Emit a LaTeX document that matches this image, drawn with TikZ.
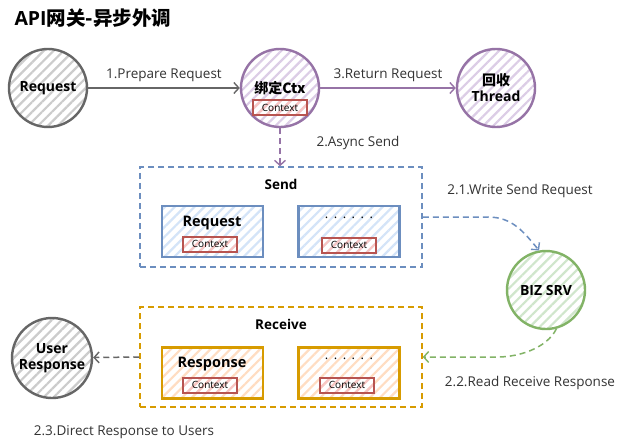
\documentclass[tikz,border=0pt]{standalone}
\usepackage{fontspec}
\setmainfont{Open Sans}
\newfontfamily\cjk{Noto Sans CJK SC}
\usetikzlibrary{arrows.meta,patterns.meta,calc}
\definecolor{grayS}{HTML}{666666}
\definecolor{grayF}{HTML}{CCCCCC}
\definecolor{purS}{HTML}{9673A6}
\definecolor{purF}{HTML}{DCCDE6}
\definecolor{bluS}{HTML}{6C8EBF}
\definecolor{bluF}{HTML}{D4E4F8}
\definecolor{oraS}{HTML}{D79B00}
\definecolor{oraF}{HTML}{FFDDC2}
\definecolor{redS}{HTML}{B85450}
\definecolor{redF}{HTML}{F8C6C4}
\definecolor{greS}{HTML}{82B366}
\definecolor{greF}{HTML}{D0E6CC}
\tikzset{
  hatch/.style={pattern={Lines[angle=45,distance=7pt,line width=2.2pt]},pattern color=#1},
  circ/.style 2 args={circle,minimum size=78pt,inner sep=0pt,line width=2.4pt,draw=#1,hatch=#2,font=\bfseries\fontsize{14}{16}\selectfont,align=center},
  inbox/.style 2 args={rectangle,minimum width=101pt,minimum height=51pt,inner sep=0pt,line width=2.4pt,draw=#1,hatch=#2},
  ctxbox/.style={rectangle,minimum width=54pt,minimum height=15pt,inner sep=0pt,line width=2pt,draw=redS,hatch=redF,font=\fontsize{10}{11}\selectfont},
  grp/.style={rectangle,dashed,dash pattern=on 6pt off 4pt,line width=1.5pt,draw=#1},
  lbl/.style={font=\fontsize{13.5}{15}\selectfont,text=black!80},
  ttl/.style={font=\bfseries\fontsize{13.5}{15}\selectfont},
  dots/.style={font=\fontsize{13}{15}\selectfont},
  arr/.style={line width=1.5pt,draw=#1,-{Straight Barb[length=5pt,width=11pt,line width=1.4pt]}},
  darr/.style={arr=#1,dash pattern=on 6pt off 4pt},
}
\newcommand{\sixdots}{.\hspace{5.5pt}.\hspace{5.5pt}.\hspace{5.5pt}.\hspace{5.5pt}.\hspace{5.5pt}.}
\begin{document}
\begin{tikzpicture}[x=1pt,y=-1pt]
\useasboundingbox[fill=white] (0,0) rectangle (629,441);
\node[anchor=west,font=\bfseries\fontsize{19.5}{21}\selectfont] (title) at (11,18) {API\cjk{\bfseries 网关}-\cjk{\bfseries 异步外调}};

\node[circ={grayS}{grayF}] (req) at (48,88) {Request};
\node[circ={purS}{purF}] (ctx) at (280,88) {};
\node[font=\bfseries\fontsize{14}{15}\selectfont] (ctxt) at (280,88) {\cjk{\bfseries 绑定}Ctx};
\node[ctxbox] (ctxc) at (280,108) {Context};
\node[circ={purS}{purF}] (thr) at (496,88) {\cjk{\bfseries 回收}\\Thread};

\draw[arr=grayS] (req) -- node[lbl,above=2pt] (l1) {1.Prepare Request} (ctx);
\draw[arr=purS] (ctx) -- node[lbl,above=2pt] (l3) {3.Return Request} (thr);

\node[grp=bluS,minimum width=282pt,minimum height=100pt] (send) at (281,217) {};
\node[ttl] (sendt) at (281,184) {Send};
\node[inbox={bluS}{bluF}] (sreq) at (212.5,231.5) {};
\node[ttl,font=\bfseries\fontsize{14.5}{16}\selectfont] (sreqt) at (212,223) {Request};
\node[ctxbox] (sreqc) at (210,244) {Context};
\node[inbox={bluS}{bluF}] (sdot) at (349,231.5) {};
\node[dots] (sdott) at (349,218) {\sixdots};
\node[ctxbox] (sdotc) at (349,245) {Context};

\draw[darr=purS] (ctx) -- (send.north -| ctx);
\node[lbl] (l2) at (358,143) {2.Async Send};

\node[circ={greS}{greF}] (biz) at (546,290) {BIZ SRV};
\draw[darr=bluS] (send.east) -- ++(65,0) .. controls +(25,0) and +(-15,-18) .. (biz.100);
\node[lbl] (l21) at (520,191) {2.1.Write Send Request};

\node[grp=oraS,minimum width=282pt,minimum height=100pt] (recv) at (281,357) {};
\node[ttl] (recvt) at (281,324) {Receive};
\node[inbox={oraS}{oraF}] (rres) at (212.5,373) {};
\node[ttl,font=\bfseries\fontsize{14.5}{16}\selectfont] (rrest) at (212,364) {Response};
\node[ctxbox] (rresc) at (210,385) {Context};
\node[inbox={oraS}{oraF}] (rdot) at (349,373) {};
\node[dots] (rdott) at (349,359) {\sixdots};
\node[ctxbox] (rdotc) at (347,385) {Context};

\draw[darr=greS] (biz.285) .. controls +(-10,20) and +(20,0) .. ($(recv.east)+(75,0)$) -- (recv.east);
\node[lbl] (l22) at (530,383) {2.2.Read Receive Response};

\node[circ={grayS}{grayF},minimum size=80pt] (user) at (52,358) {User\\Response};
\draw[darr=grayS] (recv.west) -- (user);
\node[lbl] (l23) at (124,432) {2.3.Direct Response to Users};
\end{tikzpicture}
\end{document}
